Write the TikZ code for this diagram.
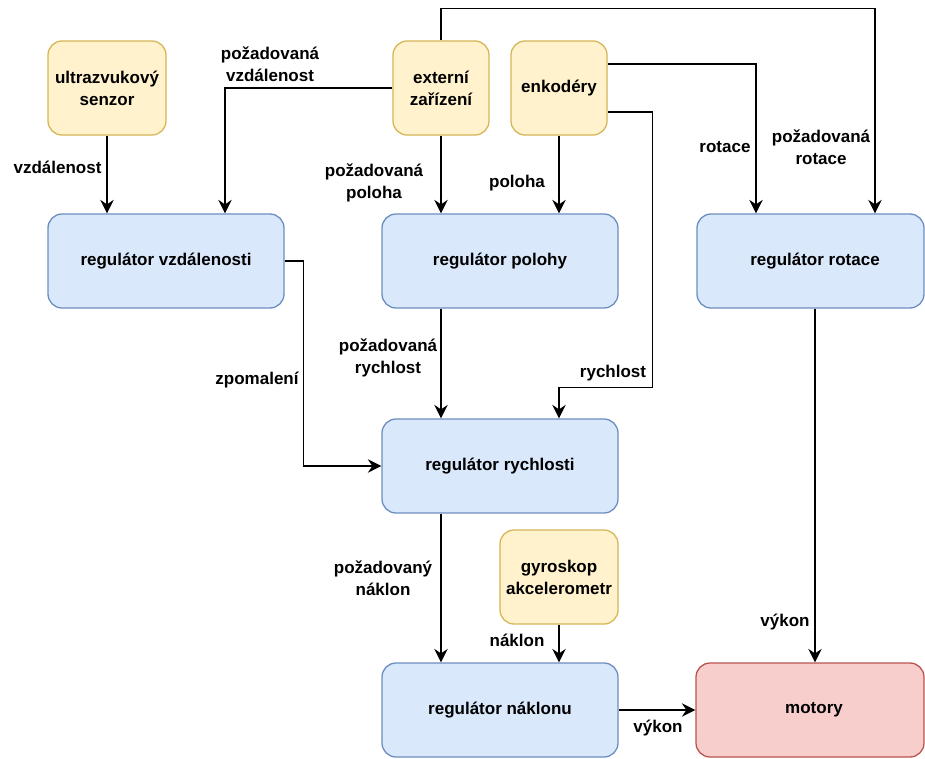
\documentclass[tikz,border=0pt]{standalone}
\usepackage{fontspec}
\setmainfont{Liberation Sans}
\usetikzlibrary{arrows.meta}

\definecolor{sensfill}{HTML}{FFF2CC}
\definecolor{sensdraw}{HTML}{D6B656}
\definecolor{regfill}{HTML}{DAE8FC}
\definecolor{regdraw}{HTML}{6C8EBF}
\definecolor{motfill}{HTML}{F8CECC}
\definecolor{motdraw}{HTML}{B85450}

\tikzset{
  txt/.style={font=\fontsize{17}{22}\selectfont\bfseries, align=center},
  box/.style={txt, rounded corners=14pt, line width=1.3pt, inner sep=0pt,
    minimum height=94pt},
  sensor/.style={box, fill=sensfill, draw=sensdraw, minimum width=118pt},
  source/.style={box, fill=sensfill, draw=sensdraw, minimum width=96pt},
  regul/.style={box, fill=regfill, draw=regdraw, minimum width=236pt},
  motor/.style={box, fill=motfill, draw=motdraw, minimum width=228pt},
  lbl/.style={txt, inner sep=0pt},
  flow/.style={line width=1.4pt, -{Stealth[length=13.5pt, width=13.5pt, inset=4.5pt]}}
}

\begin{document}
\begin{tikzpicture}[x=1pt, y=-1pt]
\useasboundingbox (0,0) rectangle (925,758);

% signal sources
\node[sensor] (us)  at (107,88)  {ultrazvukový\\senzor};
\node[source] (ext) at (441,88)  {externí\\zařízení};
\node[source] (enc) at (559,88)  {enkodéry};
\node[sensor] (gyr) at (559,577) {gyroskop\\akcelerometr};

% controllers
\node[regul] (rv) at (166,261) {regulátor vzdálenosti};
\node[regul] (rp) at (500,261) {regulátor polohy};
\node[regul, minimum width=227pt] (rr) at (810.5,261) {\hspace*{9pt}regulátor rotace};
\node[regul] (rc) at (500,466) {regulátor rychlosti};
\node[regul] (rn) at (500,710) {regulátor náklonu};
\node[motor] (mot) at (810,710) {\hspace*{8pt}motory};

% connectors
\draw[flow] (us.south) -- ([xshift=-59pt]rv.north);
\draw[flow] (ext.west) -| ([xshift=59pt]rv.north);
\draw[flow] (ext.south) -- ([xshift=-59pt]rp.north);
\draw[flow] (ext.north) -- ++(0,-32) -| ([xshift=64.5pt]rr.north);
\draw[flow] (enc.south) -- ([xshift=59pt]rp.north);
\draw[flow] ([yshift=24pt]enc.east) -| ([xshift=-54.5pt]rr.north);
\draw[flow] ([yshift=-24pt]enc.east) -- ++(45,0)
  |- ([xshift=59pt, yshift=31pt]rc.north) -- ([xshift=59pt]rc.north);
\draw[flow] (rv.east) -- ++(19,0) |- (rc.west);
\draw[flow] ([xshift=-59pt]rp.south) -- ([xshift=-59pt]rc.north);
\draw[flow] ([xshift=-59pt]rc.south) -- ([xshift=-59pt]rn.north);
\draw[flow] (gyr.south) -- ([xshift=59pt]rn.north);
\draw[flow] ([xshift=4.5pt]rr.south) -- ([xshift=5pt]mot.north);
\draw[flow] (rn.east) -- (mot.west);

% connector labels
\node[lbl] (l1)  at (57.5,167) {vzdálenost};
\node[lbl] (l2)  at (270,64)   {požadovaná\\vzdálenost};
\node[lbl] (l3)  at (374,182.5) {požadovaná\\poloha};
\node[lbl] (l4)  at (517,183)  {poloha};
\node[lbl] (l5)  at (725,147)  {rotace};
\node[lbl] (l6)  at (821,147)  {požadovaná\\rotace};
\node[lbl] (l7)  at (613,373)  {rychlost};
\node[lbl] (l8)  at (257,380)  {zpomalení};
\node[lbl] (l9)  at (388,358)  {požadovaná\\rychlost};
\node[lbl] (l10) at (383,578.5) {požadovaný\\náklon};
\node[lbl] (l11) at (517,640)  {náklon};
\node[lbl] (l12) at (785,622)  {výkon};
\node[lbl] (l13) at (658,728)  {výkon};
\end{tikzpicture}
\end{document}
